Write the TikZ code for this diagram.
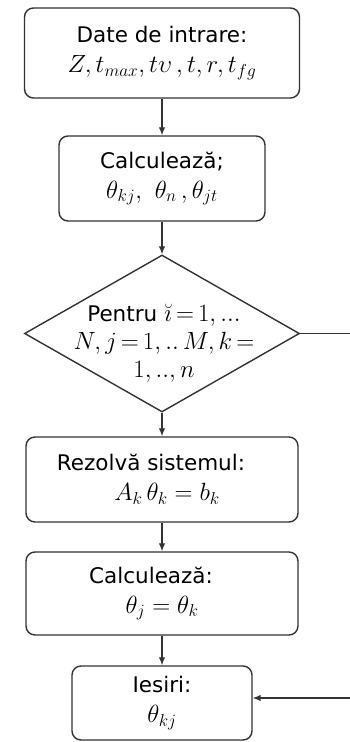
\documentclass[tikz,border=0pt]{standalone}
\usepackage{amsmath}
\usepackage{fontspec}
\usepackage{tikz}
\usetikzlibrary{arrows.meta,positioning,shapes.geometric}
\usepackage{xcolor}
\newfontfamily\flowfont{DejaVu Sans}
\definecolor{edge}{HTML}{333333}
\newcommand{\bigmath}[1]{{\fontsize{27}{31}\selectfont$#1$}}
\newcommand{\tightrel}{\thickmuskip=3mu plus 2mu\relax}

\begin{document}
\begin{tikzpicture}[x=1pt,y=-1pt,>=Latex, stepbox/.style={draw=edge,rounded corners=9pt,line width=1.4pt,align=center,inner sep=0pt,font=\flowfont\fontsize{21.5}{30}\selectfont}, decision/.style={diamond,draw=edge,line width=1.4pt,inner sep=0pt,minimum width=275pt,minimum height=157pt}, flow/.style={-{Latex[length=8pt,width=6.5pt]},draw=edge,line width=1.3pt}]
  \useasboundingbox (0,0) rectangle (350,742);
  \node[stepbox,minimum width=275pt,minimum height=90pt] (input) at (162,53) {Date de intrare:\\ \bigmath{Z,t_{max},t\upsilon\,,t,r,t_{fg}}};
  \node[stepbox,minimum width=206pt,minimum height=85pt] (calcA) at (162,178.5) {Calculează;\\ \bigmath{\theta_{kj},\ \theta_n\,,\theta_{jt}}};
  \node[decision] (loop) at (162,333.5) {};
  \node[align=center,font=\flowfont\fontsize{21.5}{28}\selectfont] (looptext) at (164,343) {Pentru \bigmath{\tightrel\breve{\imath}=1,...}\\ \bigmath{\tightrel N,j=1,..\,M,k=}\\ \bigmath{1,..,n}};
  \node[stepbox,minimum width=272pt,minimum height=85pt] (solve) at (162,479.5) {\hspace*{-22pt}Rezolvă sistemul:\\ \hspace*{10pt}\bigmath{A_k\,\theta_k=b_k}};
  \node[stepbox,minimum width=272pt,minimum height=83pt] (calcB) at (162,593.5) {\hspace*{-22pt}Calculează:\\ \bigmath{\theta_j=\theta_k}};
  \node[stepbox,minimum width=180pt,minimum height=74pt] (output) at (162,703) {Iesiri:\\ \bigmath{\theta_{kj}}};
  \coordinate (loopout) at (350,333.5);
  \coordinate (loopback) at (350,698);
  \draw[flow] (input.south) -- (calcA.north);
  \draw[flow] (calcA.south) -- (loop.north);
  \draw[flow] (loop.south) -- (solve.north);
  \draw[flow] (solve.south) -- (calcB.north);
  \draw[flow] (calcB.south) -- (output.north);
  \draw[draw=edge,line width=1.3pt] (loop.east) -- (loopout);
  \draw[flow] (loopback) -- (loopback -| output.east);
\end{tikzpicture}
\end{document}
